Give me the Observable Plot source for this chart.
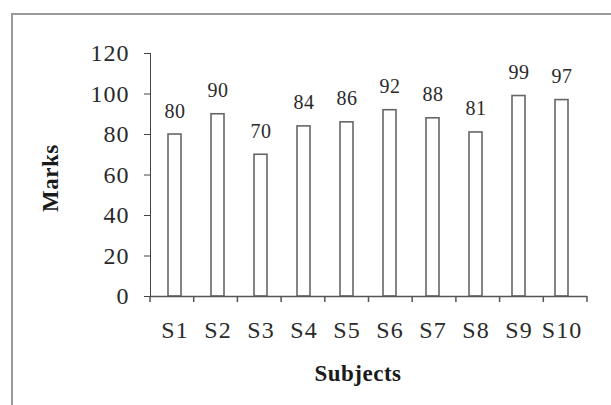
<!DOCTYPE html>
<html><head><meta charset="utf-8">
<script src="https://cdn.jsdelivr.net/npm/d3@7"></script>
<script src="https://cdn.jsdelivr.net/npm/@observablehq/plot@0.6"></script>
<style>
html,body{margin:0;padding:0;background:#fff;overflow:hidden;width:611px;height:405px}
#wrap{position:relative;width:611px;height:405px;overflow:hidden}
#frame{position:absolute;left:11px;top:13px;width:700px;height:500px;border:2px solid #999;box-sizing:border-box}
#chart{position:absolute;left:0;top:0}
#chart svg text{font-family:'Liberation Serif','Times New Roman',serif}
#chart g[aria-label$="tick label"]{font-size:24px;letter-spacing:1px;fill:#2a2a2a}
#chart g[aria-label$="tick label"] text{font-size:24px}
#chart g[aria-label="text"] text{letter-spacing:0.5px}
</style></head><body>
<div id="wrap"><div id="frame"></div><div id="chart"></div></div>
<script>
const subjects = ["S1","S2","S3","S4","S5","S6","S7","S8","S9","S10"];
const marks = [80, 90, 70, 84, 86, 92, 88, 81, 99, 97];
const yTicks = [0, 20, 40, 60, 80, 100, 120];
const xLabel = "Subjects";
const yLabel = "Marks";

const data = subjects.map((s, i) => ({subject: s, mark: marks[i]}));
const serif = "'Liberation Serif','Times New Roman',serif";

const plot = Plot.plot({
  width: 611, height: 405,
  marginLeft: 150, marginRight: 24, marginTop: 53, marginBottom: 109,
  style: {fontFamily: serif, fontSize: "24px", color: "#444", background: "transparent", overflow: "visible"},
  x: {domain: subjects, paddingInner: 0.69, paddingOuter: 0.345, label: null, tickSize: 0, tickPadding: 24},
  y: {domain: [0, 120], ticks: yTicks, tickSize: 6, tickPadding: 15, label: null, line: true},
  marks: [
    Plot.barY(data, {x: "subject", y: "mark", fill: "white", stroke: "#666", strokeWidth: 1.6}),
    Plot.ruleY([0], {stroke: "#555", strokeWidth: 1.5}),
    Plot.text(data, {x: "subject", y: "mark", text: d => String(d.mark), dy: -17, lineAnchor: "bottom", fontSize: 20, fontFamily: serif, fill: "#2a2a2a"}),
    Plot.text([xLabel], {frameAnchor: "bottom", text: d => d, dy: 84, dx: -11, fontWeight: "bold", fontSize: 23, fontFamily: serif, fill: "#1a1a1a"}),
    Plot.text([yLabel], {frameAnchor: "left", text: d => d, rotate: -90, dx: -100, dy: 37, fontWeight: "bold", fontSize: 23, fontFamily: serif, fill: "#1a1a1a"})
  ]
});
document.getElementById("chart").appendChild(plot);

// category boundary ticks on the x axis, from the library's own x scale
const sx = plot.scale("x");
const sy = plot.scale("y");
const band = d3.scaleBand().domain(sx.domain).range(sx.range)
  .paddingInner(sx.paddingInner).paddingOuter(sx.paddingOuter).align(sx.align ?? 0.5);
const yLin = d3.scaleLinear().domain(sy.domain).range(sy.range);
const step = band.step(), bw = band.bandwidth();
const bounds = subjects.map(s => band(s) + bw / 2 - step / 2)
  .concat([band(subjects[subjects.length - 1]) + bw / 2 + step / 2]);
const y0 = yLin(0);
const svg = d3.select(plot.tagName.toLowerCase() === "svg" ? plot : plot.querySelector("svg"));
svg.append("g").selectAll("line").data(bounds).join("line")
  .attr("x1", d => d).attr("x2", d => d).attr("y1", y0).attr("y2", y0 + 6)
  .attr("stroke", "#555").attr("stroke-width", 1.5);
</script>
</body></html>
